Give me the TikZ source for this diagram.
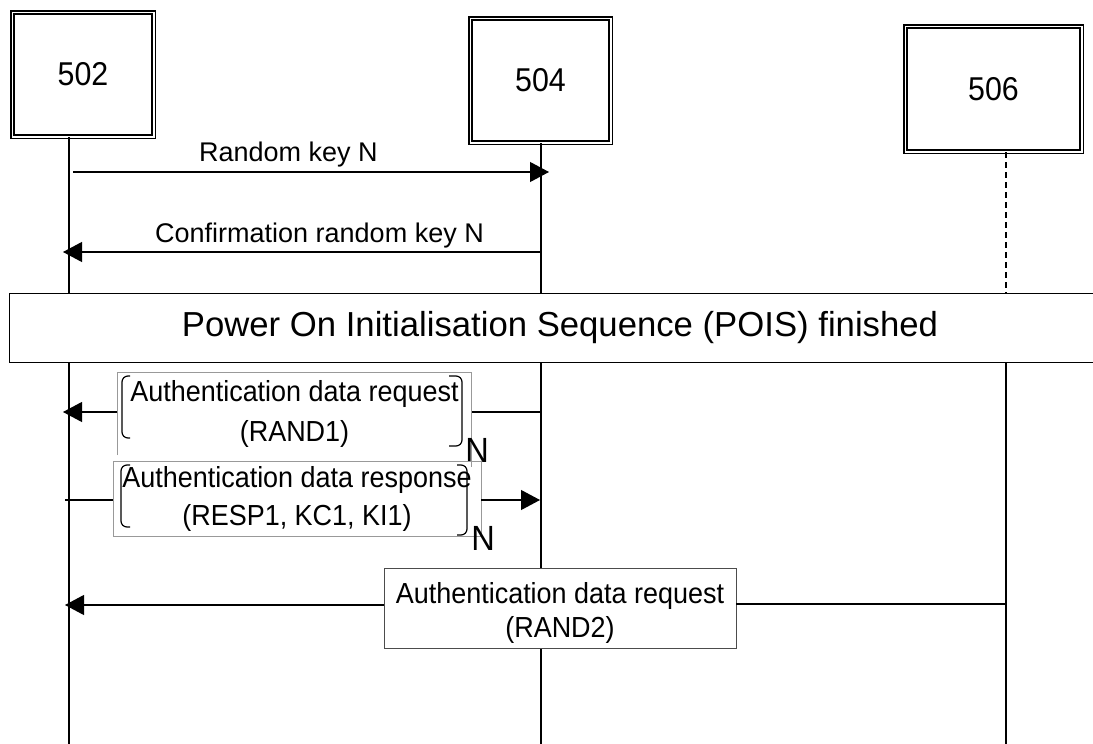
\documentclass[tikz,border=0pt]{standalone}
\usepackage{fontspec}
\setmainfont{Liberation Sans}
\newfontfamily\labfont[FakeStretch=0.93]{Liberation Sans}
\newfontfamily\digfont[FakeStretch=0.92]{Liberation Sans}
\usetikzlibrary{arrows.meta}
\tikzset{
  actor/.style={draw, double, double distance=1.8pt, line width=1.5pt, fill=white, inner sep=0pt,
    font=\digfont\fontsize{33}{36}\selectfont},
  lifeline/.style={line width=1.4pt},
  msg/.style={line width=1.1pt, -{Triangle[length=19pt,width=20pt]}},
  plainmsg/.style={line width=1.1pt},
  lbl/.style={inner sep=0pt, font=\fontsize{27}{30}\selectfont},
  msgbox/.style={inner sep=0pt, align=center},
  grayedge/.style={draw=black!40, line width=0.9pt},
  brk/.style={line width=1.2pt, rounded corners=6pt},
  nlbl/.style={inner sep=0pt, font=\labfont\fontsize{35}{36}\selectfont}
}
\begin{document}
\begin{tikzpicture}[x=1pt,y=-1pt]
\clip (0,0) rectangle (1093,744);
\fill[white] (0,0) rectangle (1093,744);

% actors
\node[actor, minimum width=141.2pt, minimum height=124.2pt] (n502) at (83,74.5) {502};
\node[actor, minimum width=140.2pt, minimum height=124.2pt] (n504) at (540.5,80.5) {504};
\node[actor, minimum width=176.2pt, minimum height=125.2pt] (n506) at (993.5,89) {506};

% lifeline coordinates
\coordinate (l1top) at (69,137);
\coordinate (l1bot) at (69,744);
\coordinate (l2top) at (541,143);
\coordinate (l2bot) at (541,744);
\coordinate (l3top) at (1006,152);
\coordinate (l3mid) at (1006,293);
\coordinate (l3low) at (1006,363);
\coordinate (l3bot) at (1006,744);

\draw[lifeline] (l1top) -- (l1bot);
\draw[lifeline] (l2top) -- (l2bot);
\draw[lifeline, dashed, dash pattern=on 6pt off 4pt] (l3top) -- (l3mid);
\draw[lifeline] (l3low) -- (l3bot);

% message 1
\coordinate (m1s) at (73,172);
\coordinate (m1e) at (549,172);
\draw[msg] (m1s) -- (m1e);
\node[lbl, anchor=base west] (t1) at (199,161) {Random key N};

% message 2
\coordinate (m2s) at (541,252);
\coordinate (m2e) at (63,252);
\draw[msg] (m2s) -- (m2e);
\node[lbl, anchor=base west] (t2) at (155,242) {Confirmation random key N};

% POIS
\node[draw, line width=1.3pt, fill=white, minimum width=1101pt, minimum height=69pt, inner sep=0pt,
  font=\fontsize{34.7}{40}\selectfont] (pois) at (560,328) {Power On Initialisation Sequence (POIS) finished};

% RAND1
\node[msgbox, minimum width=354pt, minimum height=82pt, font=\labfont\fontsize{29}{40}\selectfont] (b1) at (294.5,414)
  {Authentication data request\\(RAND1)};
\draw[grayedge] (b1.south west) -- (b1.north west) -- (b1.north east) -- ([yshift=-12pt]b1.south east);
\coordinate (m3s) at (541,412);
\coordinate (m3e) at (63,412);
\draw[plainmsg] (m3s) -- (m3s -| b1.east);
\draw[msg] (m3e -| b1.west) -- (m3e);
\draw[brk] (130,376) -- (122,376) -- (122,438) -- (130,438);
\draw[brk] (449,376) -- (462,376) -- (462,446) -- (449,446);
\node[nlbl] (N1) at (477,450) {N};

% RESP1
\node[msgbox, draw=black!40, line width=0.9pt, minimum width=368pt, minimum height=75pt, font=\labfont\fontsize{29}{38}\selectfont] (b2) at (297,498.5)
  {Authentication data response\\(RESP1, KC1, KI1)};
\coordinate (m4s) at (65,500);
\coordinate (m4e) at (540,500);
\draw[plainmsg] (m4s) -- (m4s -| b2.west);
\draw[msg] (m4e -| b2.east) -- (m4e);
\draw[brk] (130,465) -- (121,465) -- (121,527) -- (130,527);
\draw[brk] (457,465) -- (467,465) -- (467,535) -- (457,535);
\node[nlbl] (N2) at (483,538) {N};

% RAND2
\node[draw=black!70, line width=0.9pt, fill=white, minimum width=352pt, minimum height=80pt, inner sep=0pt] (b3) at (560,608) {};
\node[msgbox, font=\labfont\fontsize{29}{34}\selectfont] (t5) at (560,613)
  {Authentication data request\\(RAND2)};
\coordinate (m5s) at (1006,604);
\coordinate (m5e) at (65,605);
\draw[plainmsg] (m5s) -- (m5s -| b3.east);
\draw[msg] (m5e -| b3.west) -- (m5e);
\end{tikzpicture}
\end{document}
